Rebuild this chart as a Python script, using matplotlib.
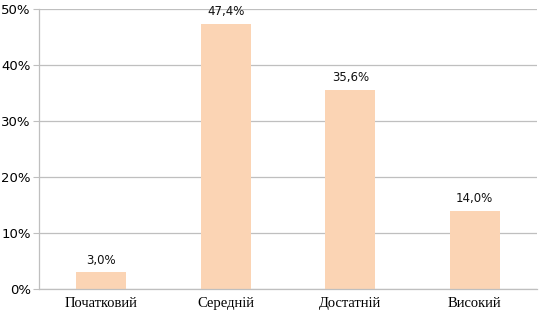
import matplotlib
matplotlib.use("Agg")
import matplotlib.pyplot as plt
from matplotlib.ticker import FuncFormatter

categories = ["Початковий", "Середній", "Достатній", "Високий"]
values = [3.0, 47.4, 35.6, 14.0]
value_labels = ["3,0%", "47,4%", "35,6%", "14,0%"]
yticks = [0, 10, 20, 30, 40, 50]

fig = plt.figure(figsize=(5.40, 3.19), dpi=100)
ax = fig.add_axes([39/540, 30/319, (537-39)/540, (289-9)/319])

x = range(len(categories))
bars = ax.bar(x, values, width=0.4, color="#FBD4B4", zorder=2)
for xi, v, lab in zip(x, values, value_labels):
    ax.text(xi, v + 1.0, lab, ha="center", va="bottom", fontsize=8.5,
            family="DejaVu Sans", color="#111111")

ax.set_xlim(-0.5, len(categories) - 0.5)
ax.set_ylim(0, 50)
ax.set_yticks(yticks)
ax.yaxis.set_major_formatter(FuncFormatter(lambda v, p: f"{int(v)}%"))
ax.grid(axis="y", color="#BFBFBF", linewidth=0.9, zorder=0)
ax.set_xticks(list(x))
ax.set_xticklabels(categories, family="Liberation Serif", fontsize=10.5)
for lab in ax.get_yticklabels():
    lab.set_family("DejaVu Sans")
    lab.set_fontsize(9.5)
ax.tick_params(axis="y", length=4, color="#BFBFBF", pad=2)
ax.tick_params(axis="x", length=0, pad=6)
for s in ["top", "right"]:
    ax.spines[s].set_visible(False)
for s in ["left", "bottom"]:
    ax.spines[s].set_color("#BFBFBF")
    ax.spines[s].set_linewidth(0.9)

fig.savefig("out.png", dpi=100)
